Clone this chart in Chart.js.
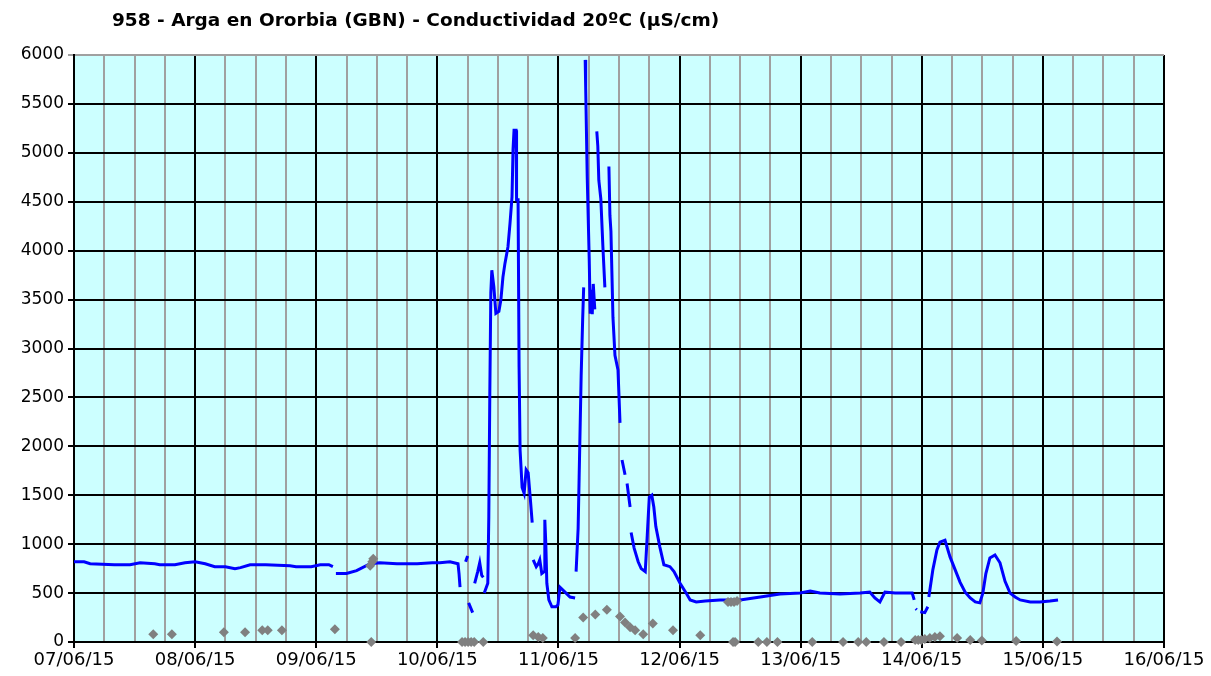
<!DOCTYPE html>
<html lang="es">
<head>
  <meta charset="UTF-8" />
  <title>958 - Arga en Ororbia (GBN) - Conductividad 20ºC</title>
  <script src="https://cdn.jsdelivr.net/npm/chart.js"></script>
  <style>
    html, body { margin: 0; padding: 0; background: #fff; }
    canvas { display: block; }
  </style>
</head>
<body>
  <canvas id="condChart" width="1211" height="676"></canvas>

  <script>
    const chartTitle = '958 - Arga en Ororbia (GBN) - Conductividad 20ºC (µS/cm)';
    const dayLabels = ['07/06/15', '08/06/15', '09/06/15', '10/06/15', '11/06/15',
                       '12/06/15', '13/06/15', '14/06/15', '15/06/15', '16/06/15'];

    // hours since 07/06/15 00:00 ; null value = gap in the record
    const blueHours = [
      0, 2, 3.2, 8, 11.1, 13.1, 16, 17, 20, 22, 24, 26, 27.9, 30, 31.9, 33, 34.9, 38, 42.8, 44, 47, 48.8, 50.5, 51.3,
      51.6,
      51.9, 54, 56, 58.7, 60.6, 64, 68, 71, 72.5, 74.5, 76.1, 76.3, 76.5,
      77.0,
      77.6, 78.0,
      78.1,
      78.2, 79.0,
      79.2,
      79.4, 80.0, 80.4, 80.8, 81.1,
      81.2,
      81.3, 82.0, 82.2, 82.4, 82.6, 82.8, 83.2, 83.6, 84.2, 84.6, 85.0, 85.4, 86.0, 86.4, 86.8, 87.0, 87.2, 87.6, 87.7,
      88.0, 88.2, 88.4, 88.8, 89.2, 89.6, 90.0, 90.4, 90.8,
      90.9,
      91.0, 91.6, 92.0, 92.3, 92.7, 93.2, 93.3, 93.5, 93.7, 94.1, 94.7, 95.5, 95.9, 96.3, 97.3, 98.3, 99.3,
      99.4,
      99.5, 99.9, 100.1, 100.5, 100.8, 101.0,
      101.15,
      101.3, 101.4, 101.7, 102.1, 102.3, 102.5, 102.7, 102.9, 103.2,
      103.4,
      103.6, 103.8, 104.0, 104.4, 104.8, 105.2,
      105.6,
      106.0, 106.2, 106.4, 106.8, 107.2, 107.8, 108.2,
      108.4,
      108.6, 109.2,
      109.4,
      109.6, 110.2,
      110.3,
      110.4, 111.0, 111.8, 112.4, 113.2, 113.6, 114.0, 114.5, 114.9, 115.3, 116.1, 116.9, 118.1, 118.9, 120.1, 121.3,
      122.1, 123.3, 125.1, 128.0, 132.0, 136.0, 139.9, 143.9, 145.9, 147.8, 151.8, 155.8, 157.7, 158.7, 159.7, 160.7,
      162.7, 166.1, 166.5,
      166.6,
      166.8, 167.0,
      167.3,
      167.7, 168.6, 169.2,
      169.3,
      169.4, 170.2, 171.0, 171.6, 172.6, 173.6, 174.6, 175.6, 176.6, 177.6, 178.6, 179.5, 180.1, 180.7, 181.5, 182.5,
      183.5, 184.5, 185.5, 186.5, 187.5, 189.5, 191.4, 193.4, 195.0
    ];
    const blueValues = [
      820, 820, 800, 790, 790, 810, 800, 790, 790, 810, 820, 800, 770, 770, 750, 760, 790, 790, 780, 770, 770, 790, 790, 770,
      null,
      700, 700, 730, 800, 810, 800, 800, 810, 810, 820, 800, 700, 560,
      null,
      820, 880,
      null,
      400, 300,
      null,
      600, 720, 810, 680, 660,
      null,
      500, 600, 1280, 2540, 3570, 3800, 3630, 3360, 3380, 3500, 3730, 3870, 4040, 4280, 4550, 5030, 5230, 5230, 4520,
      4520, 2810, 1960, 1580, 1520, 1760, 1730, 1480, 1220,
      null,
      840, 770, 800, 840, 700, 720, 1250, 1000, 600, 430, 360, 360, 380, 560, 510, 460, 450,
      null,
      720, 1160, 1680, 2720, 3300, 3625,
      null,
      5950, 5665, 4760, 3910, 3355, 3600, 3350, 3660, 3400,
      null,
      5220, 5070, 4720, 4530, 4050, 3625,
      null,
      4860, 4360, 4200, 3320, 2930, 2780, 2240,
      null,
      1860, 1710,
      null,
      1620, 1380,
      null,
      1120, 960, 820, 750, 720, 1090, 1480, 1500, 1380, 1180, 970, 790, 770, 720, 600, 500,
      430, 410, 420, 430, 430, 460, 490, 500, 520, 500, 490, 500, 510, 450, 410, 510,
      500, 500, 430,
      null,
      340, 330,
      null,
      310, 300, 360,
      null,
      460, 740, 940, 1020, 1040, 870, 740, 610, 510, 450, 410, 400, 500, 700, 860, 890,
      810, 620, 500, 460, 430, 410, 410, 420, 430
    ];

    const grayHours = [
      15.7, 19.4, 29.7, 33.9, 37.3, 38.4, 41.2, 51.7, 58.7, 58.9, 59.1, 59.3,
      76.9, 77.5, 78.1, 78.7, 79.3, 81.1,
      91.0, 92.0, 92.9, 99.3, 100.9, 103.3, 105.6, 108.2, 109.2, 110.2, 111.2, 112.8, 114.7, 118.7, 124.1,
      129.6, 130.2, 130.8, 131.4, 130.6, 131.0, 135.6, 137.3, 139.4, 146.3, 152.4, 155.4, 157.0, 160.5, 163.9,
      166.7, 167.3, 167.9, 168.6, 169.6, 170.6, 171.6, 175.0, 177.6, 179.9, 186.7, 194.8
    ];
    const grayValues = [
      80, 80, 100, 100, 120, 120, 120, 130, 780, 0, 820, 850,
      0, 0, 0, 0, 0, 0,
      70, 50, 40, 40, 250, 280, 330, 260, 200, 150, 120, 80, 190, 120, 70,
      410, 410, 410, 420, 0, 0, 0, 0, 0, 0, 0, 0, 0, 0, 0,
      20, 20, 20, 30, 40, 50, 60, 40, 20, 15, 10, 5
    ];

    const blueData = blueHours.map((h, i) => ({ x: h, y: blueValues[i] }));
    const grayData = grayHours.map((h, i) => ({ x: h, y: grayValues[i] }));

    const fontFamily = '"DejaVu Sans", Verdana, sans-serif';

    // light cyan plot area + title text
    const plotBg = {
      id: 'plotBg',
      beforeDraw(chart) {
        const { ctx, chartArea: a } = chart;
        ctx.save();
        ctx.fillStyle = '#ccffff';
        ctx.fillRect(a.left, a.top, a.right - a.left, a.bottom - a.top);
        ctx.restore();
      },
      afterDraw(chart) {
        const ctx = chart.ctx;
        ctx.save();
        ctx.font = 'bold 18.5px ' + fontFamily;
        ctx.fillStyle = '#000';
        ctx.textBaseline = 'middle';
        ctx.fillText(chartTitle, 112, 21);
        ctx.restore();
      }
    };

    new Chart(document.getElementById('condChart'), {
      type: 'line',
      data: {
        datasets: [
          {
            label: 'muestras',
            data: grayData,
            showLine: false,
            pointStyle: 'rectRot',
            pointRadius: 5,
            backgroundColor: '#808080',
            borderColor: '#808080',
            borderWidth: 0,
            clip: false,
            order: 0
          },
          {
            label: 'Conductividad',
            data: blueData,
            borderColor: '#0000ff',
            borderWidth: 3,
            pointRadius: 0,
            fill: false,
            tension: 0,
            spanGaps: false,
            order: 1
          }
        ]
      },
      options: {
        responsive: false,
        animation: false,
        layout: { padding: { top: 55, right: 47, bottom: 0, left: 0 } },
        plugins: {
          legend: { display: false },
          tooltip: { enabled: false },
          title: { display: false }
        },
        scales: {
          x: {
            type: 'linear',
            min: 0,
            max: 216,
            afterFit: s => { s.height = 34; },
            ticks: {
              stepSize: 6,
              autoSkip: false,
              maxRotation: 0,
              padding: 2,
              color: '#000',
              font: { family: fontFamily, size: 18 },
              callback: v => (v % 24 === 0 ? dayLabels[v / 24] : '')
            },
            grid: {
              color: c => (c.tick && c.tick.value % 24 === 0 ? '#000' : '#a0a0a0'),
              tickColor: c => (c.tick && c.tick.value % 24 === 0 ? '#000' : 'rgba(0,0,0,0)'),
              lineWidth: 2,
              tickLength: 6
            },
            border: { color: '#000', width: 2 }
          },
          y: {
            min: 0,
            max: 6000,
            afterFit: s => { s.width = 74; },
            ticks: {
              stepSize: 500,
              padding: 4,
              color: '#000',
              font: { family: fontFamily, size: 17 },
              callback: v => String(v)
            },
            grid: {
              color: c => (c.tick && c.tick.value === 6000 ? '#a0a0a0' : '#000'),
              lineWidth: 2,
              tickLength: 6
            },
            border: { color: '#000', width: 2 }
          }
        }
      },
      plugins: [plotBg]
    });
  </script>
</body>
</html>
